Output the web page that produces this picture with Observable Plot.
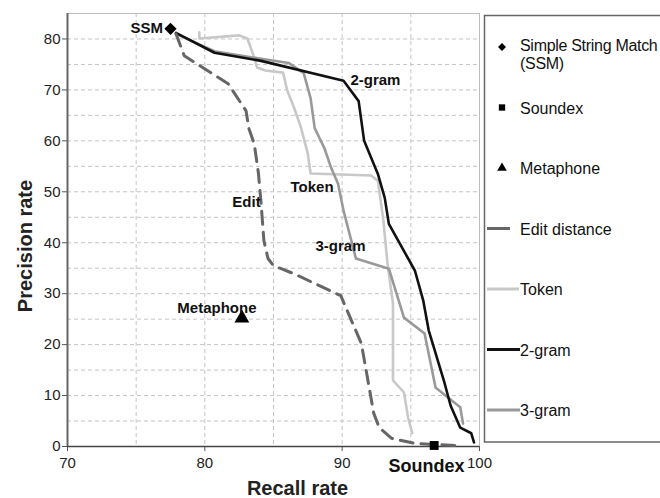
<!DOCTYPE html>
<html>
<head>
<meta charset="utf-8">
<script src="https://cdn.jsdelivr.net/npm/d3@7"></script>
<script src="https://cdn.jsdelivr.net/npm/@observablehq/plot@0.6"></script>
<style>
  html, body { margin: 0; padding: 0; background: #fff; overflow: hidden; }
  #wrap { position: relative; width: 660px; height: 498px; }
  #legend { position: absolute; left: 0; top: 0; pointer-events: none; }
  svg { font-family: "Liberation Sans", Arial, sans-serif; }
</style>
</head>
<body>
<div id="wrap"></div>
<script>
// ---- Data ----
const xTicks = [70, 80, 90, 100];
const yTicks = [0, 10, 20, 30, 40, 50, 60, 70, 80];
const xGrid = [75, 80, 85, 90, 95];
const yGrid = [5, 10, 15, 20, 25, 30, 35, 40, 45, 50, 55, 60, 65, 70, 75, 80];

const ssm = [{recall: 77.5, precision: 82.0}];
const soundex = [{recall: 96.7, precision: 0.2}];
const metaphone = [{recall: 82.7, precision: 25.2}];

const editRecall = [77.9, 78.5, 81.7, 83.0, 83.2, 83.6, 83.9, 84.1, 84.3, 84.6, 85.0, 86.5, 89.9, 91.4, 92.3, 92.7, 93.6, 95.3, 98.2];
const editPrecision = [81.0, 76.7, 71.2, 65.9, 62.5, 59.4, 53.7, 47.6, 40.4, 36.9, 35.5, 33.9, 29.6, 20.2, 6.5, 3.7, 1.6, 0.6, 0.2];

const tokenRecall = [79.6, 79.6, 82.5, 83.1, 83.5, 83.8, 84.4, 85.7, 86.0, 86.5, 87.0, 87.5, 87.7, 92.1, 92.6, 93.0, 93.3, 93.7, 93.7, 94.5, 94.8, 95.1];
const tokenPrecision = [81.3, 80.1, 80.7, 80.1, 77.1, 74.4, 73.8, 73.4, 69.9, 66.5, 62.6, 57.5, 53.6, 53.2, 52.2, 44.4, 35.9, 28.1, 13.0, 10.6, 5.7, 2.6];

const gram2Recall = [77.9, 80.7, 84.1, 90.1, 91.2, 91.6, 92.6, 93.1, 93.4, 95.3, 95.9, 96.3, 97.4, 97.9, 98.6, 99.4, 99.6];
const gram2Precision = [81.2, 77.3, 75.7, 71.8, 67.8, 60.0, 53.5, 48.8, 43.7, 34.5, 28.7, 22.8, 13.0, 8.0, 3.7, 2.6, 0.8];

const gram3Recall = [77.9, 80.7, 84.1, 86.1, 87.2, 87.7, 88.0, 88.7, 89.2, 89.7, 90.1, 91.0, 93.4, 94.5, 96.0, 96.8, 97.7, 98.6, 98.8];
const gram3Precision = [81.0, 77.6, 76.1, 75.3, 73.3, 68.4, 62.5, 58.6, 54.7, 51.6, 46.3, 36.9, 34.9, 25.3, 22.2, 11.6, 9.6, 7.7, 4.5];

// In-plot annotation labels (data-space anchors)
const labelNames = ["SSM", "2-gram", "Token", "Edit", "3-gram", "Metaphone", "Soundex"];
const labelRecall = [76.95, 90.6, 86.24, 82.0, 88.06, 78.0, 93.38];
const labelPrecision = [82.1, 72.0, 51.0, 47.9, 39.3, 27.1, -3.9];

const legendLabels = ["Simple String Match\n(SSM)", "Soundex", "Metaphone", "Edit distance", "Token", "2-gram", "3-gram"];

// ---- Build tables ----
const zip = (xs, ys) => xs.map((x, i) => ({recall: x, precision: ys[i]}));
const edit = zip(editRecall, editPrecision);
const token = zip(tokenRecall, tokenPrecision);
const gram2 = zip(gram2Recall, gram2Precision);
const gram3 = zip(gram3Recall, gram3Precision);
const labels = labelNames.map((t, i) => ({t, recall: labelRecall[i], precision: labelPrecision[i]}));

const font = "Liberation Sans, Arial, sans-serif";

const chart = Plot.plot({
  width: 660,
  height: 498,
  marginLeft: 67,
  marginRight: 181,
  marginTop: 13,
  marginBottom: 52,
  style: {fontFamily: font, background: "white", overflow: "visible", color: "#222"},
  x: {domain: [70, 100]},
  y: {domain: [0, 85]},
  marks: [
    Plot.gridX(xGrid, {stroke: "#c4c4c4", strokeOpacity: 1, strokeDasharray: "4,3"}),
    Plot.gridY(yGrid, {stroke: "#c4c4c4", strokeOpacity: 1, strokeDasharray: "4,3"}),
    Plot.frame({stroke: "#bdbdbd"}),
    Plot.axisY(yTicks, {tickSize: 5, tickPadding: 2, fontSize: 15, label: null, stroke: "#555"}),
    Plot.axisX(xTicks, {tickSize: 5, tickPadding: 6, fontSize: 15, label: null, stroke: "#555"}),
    Plot.ruleX([70], {stroke: "#666", strokeWidth: 2}),
    Plot.ruleY([0], {stroke: "#444", strokeWidth: 1.5}),
    Plot.line(token, {x: "recall", y: "precision", stroke: "#c8c8c8", strokeWidth: 2.6}),
    Plot.line(gram3, {x: "recall", y: "precision", stroke: "#999", strokeWidth: 2.6}),
    Plot.line(gram2, {x: "recall", y: "precision", stroke: "#111", strokeWidth: 2.6}),
    Plot.line(edit, {x: "recall", y: "precision", stroke: "#666", strokeWidth: 3, strokeDasharray: "13,8"}),
    Plot.dot(ssm, {x: "recall", y: "precision", symbol: "diamond2", r: 5.5, fill: "#000", stroke: "none"}),
    Plot.dot(soundex, {x: "recall", y: "precision", symbol: "square", r: 5, fill: "#000", stroke: "none"}),
    Plot.dot(metaphone, {x: "recall", y: "precision", symbol: "triangle", r: 5.5, fill: "#000", stroke: "none"}),
    Plot.text(labels.filter(d => d.t === "SSM"), {x: "recall", y: "precision", text: "t", textAnchor: "end", fontSize: 15, fontWeight: "bold", fill: "#111"}),
    Plot.text(labels.filter(d => d.t !== "SSM" && d.t !== "Soundex"), {x: "recall", y: "precision", text: "t", textAnchor: "start", fontSize: 15, fontWeight: "bold", fill: "#111"}),
    Plot.text(labels.filter(d => d.t === "Soundex"), {x: "recall", y: "precision", text: "t", textAnchor: "start", fontSize: 18, fontWeight: "bold", fill: "#111"}),
    Plot.text([{t: "Precision rate"}], {text: "t", frameAnchor: "left", textAnchor: "middle", lineAnchor: "middle", dx: -42, dy: 16, rotate: -90, fontSize: 20, fontWeight: "bold", fill: "#222"}),
    Plot.text([{t: "Recall rate"}], {text: "t", frameAnchor: "bottom", textAnchor: "middle", lineAnchor: "bottom", dx: 24, dy: 48, fontSize: 20, fontWeight: "bold", fill: "#222"})
  ]
});

const wrap = document.getElementById("wrap");
wrap.appendChild(chart);

// ---- Legend overlay ----
const leg = d3.select(wrap).append("svg")
  .attr("id", "legend")
  .attr("width", 660).attr("height", 498);

leg.append("rect")
  .attr("x", 484.5).attr("y", 15.5).attr("width", 200).attr("height", 426.5)
  .attr("fill", "white").attr("stroke", "#666").attr("stroke-width", 1.5);

const kinds = ["diamond", "square", "triangle", "edit", "token", "gram2", "gram3"];
const symbolFor = {diamond: d3.symbolDiamond2, square: d3.symbolSquare, triangle: d3.symbolTriangle};
const lineStyle = {
  edit: {stroke: "#666", x2: 510},
  token: {stroke: "#c8c8c8", x2: 519},
  gram2: {stroke: "#111", x2: 520},
  gram3: {stroke: "#999", x2: 520}
};

legendLabels.forEach((lab, i) => {
  const cy = 47 + 60.5 * i;
  const kind = kinds[i];
  if (symbolFor[kind]) {
    leg.append("path")
      .attr("d", d3.symbol(symbolFor[kind], 40)())
      .attr("transform", `translate(502,${cy})`)
      .attr("fill", "#000");
  } else {
    const s = lineStyle[kind];
    leg.append("line")
      .attr("x1", 487).attr("x2", s.x2).attr("y1", cy).attr("y2", cy)
      .attr("stroke", s.stroke).attr("stroke-width", 3);
  }
  const lines = lab.split("\n");
  const t = leg.append("text")
    .attr("x", 520).attr("y", i === 0 ? cy - 2 : cy)
    .attr("font-size", 16).attr("fill", "#111")
    .attr("letter-spacing", i === 0 ? "-0.3px" : null)
    .attr("dominant-baseline", "central");
  lines.forEach((ln, k) => {
    t.append("tspan").attr("x", 520).attr("dy", k === 0 ? 0 : 18).text(ln);
  });
});
</script>
</body>
</html>
